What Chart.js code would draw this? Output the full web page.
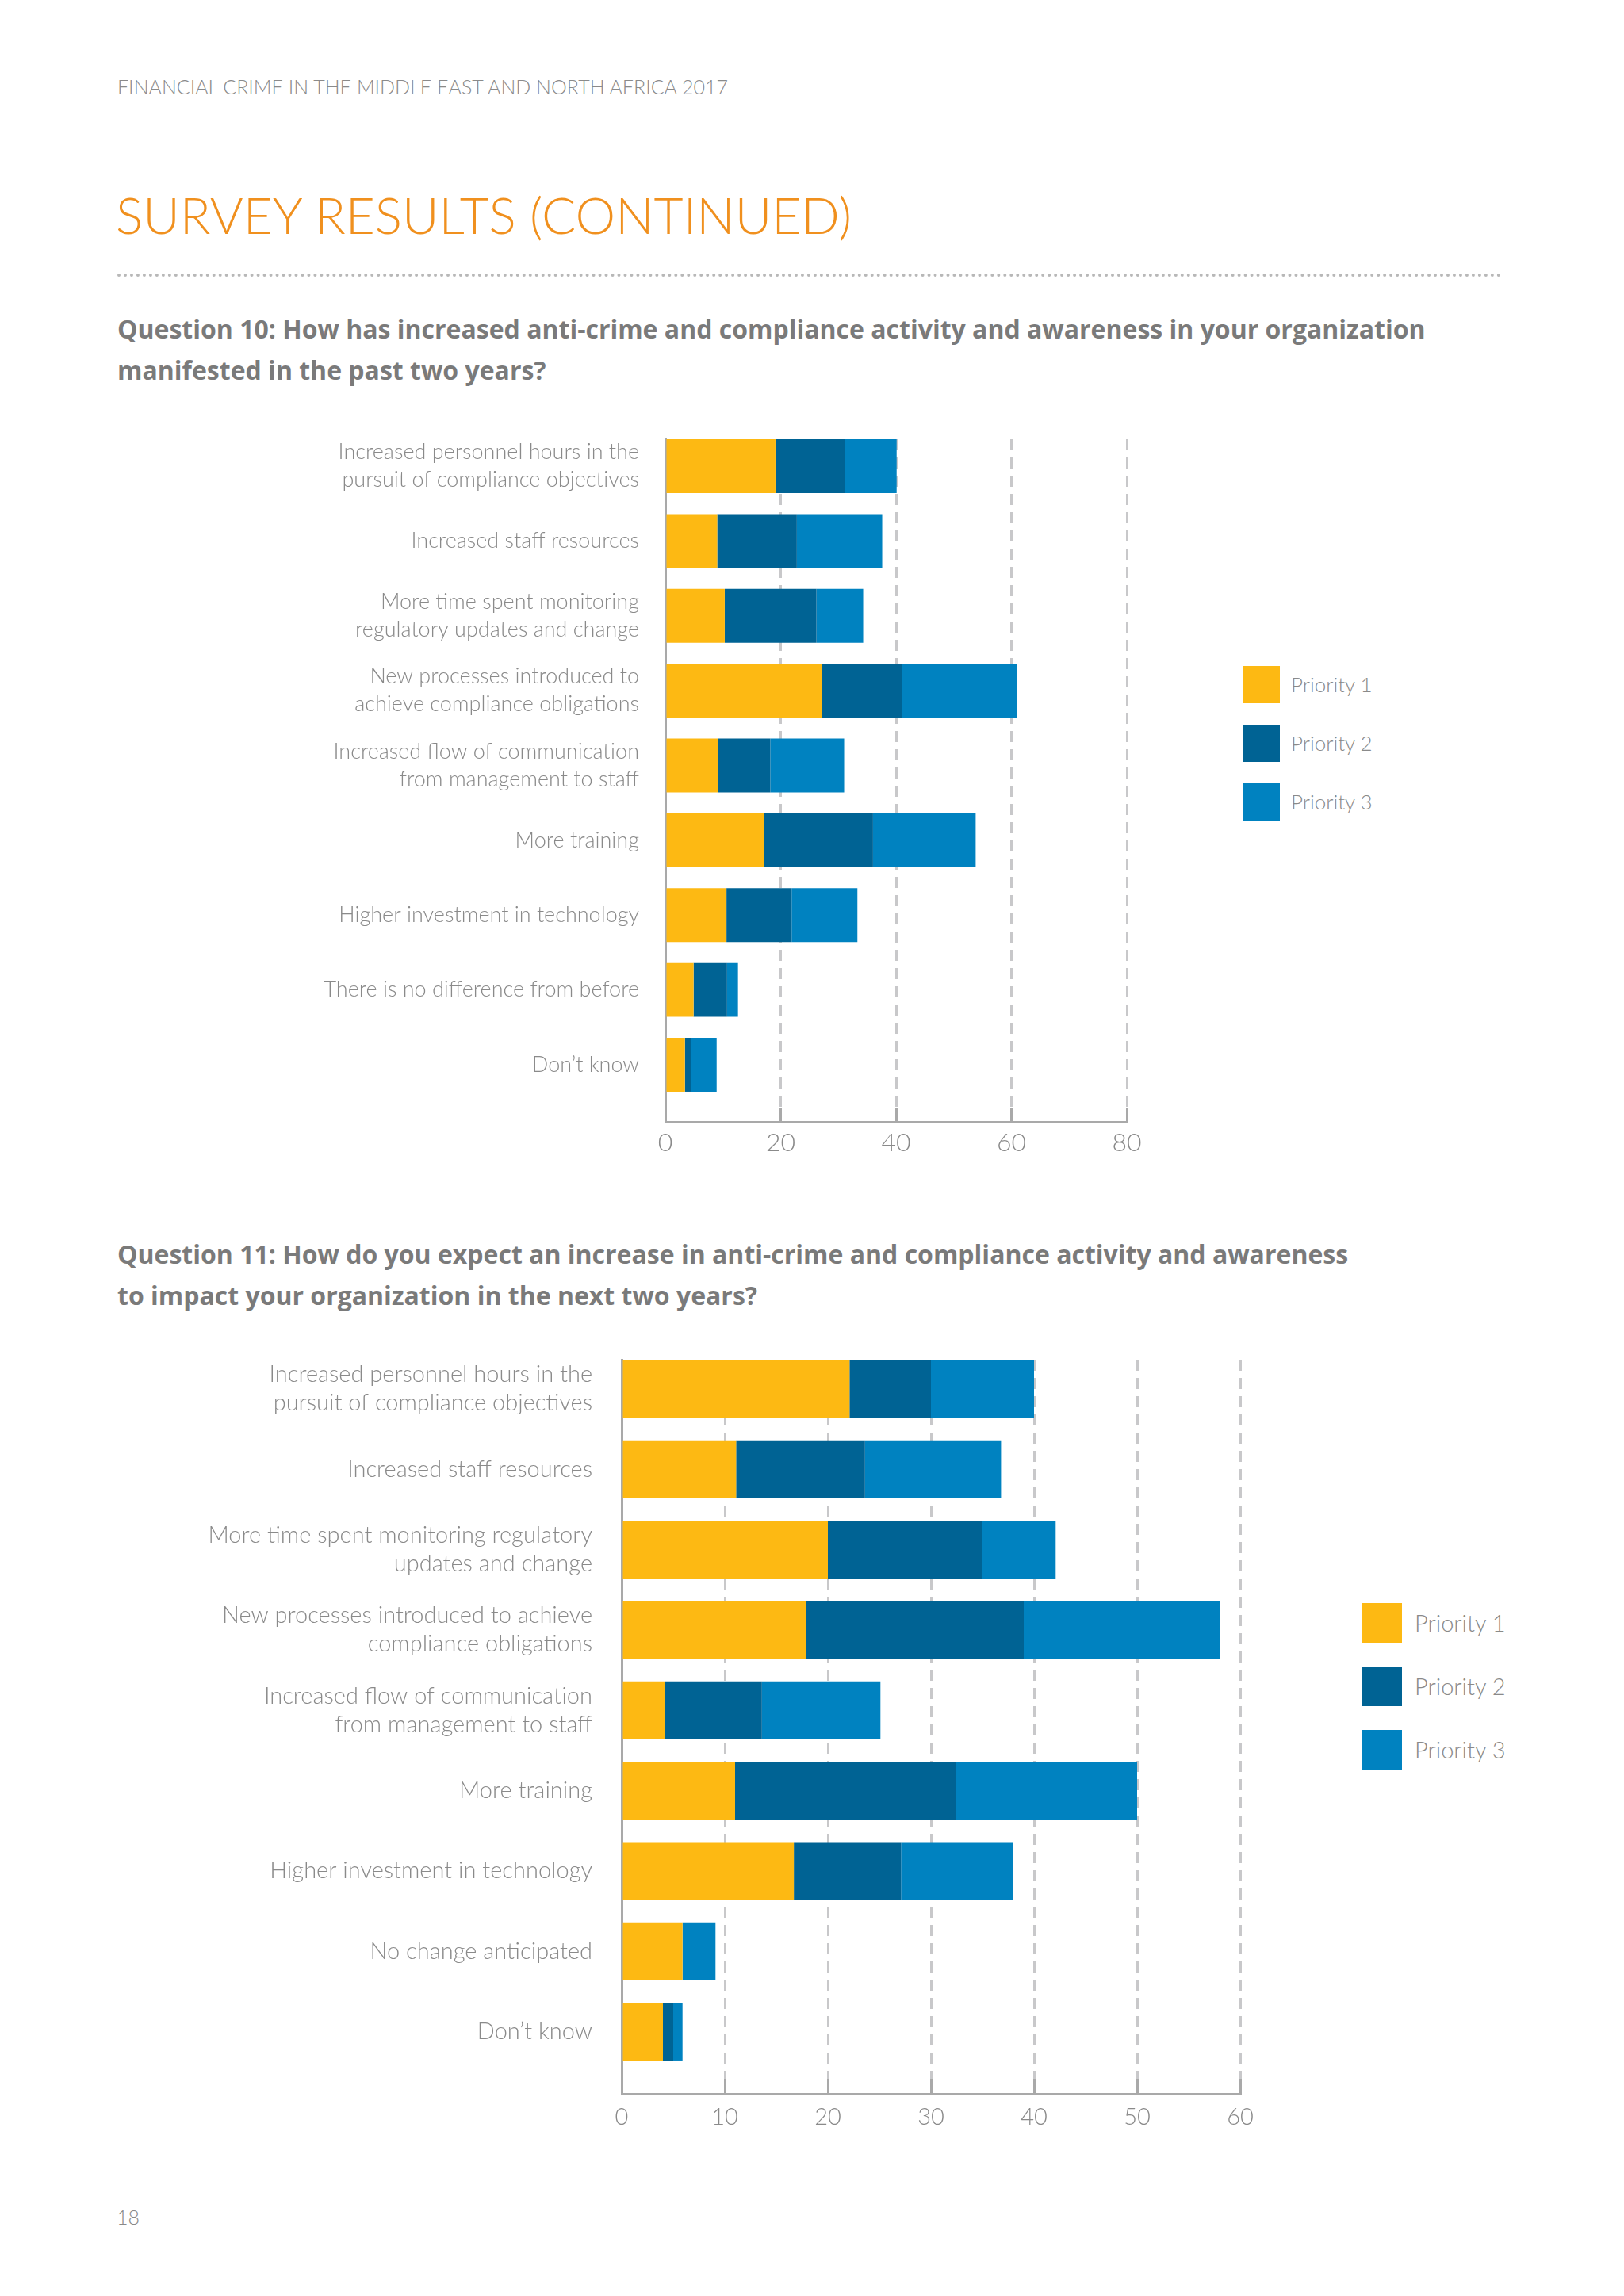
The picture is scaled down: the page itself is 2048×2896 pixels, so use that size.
<!DOCTYPE html>
<html>
<head>
<meta charset="utf-8">
<script src="https://cdn.jsdelivr.net/npm/chart.js@4.4.1/dist/chart.umd.min.js"></script>
<style>
  html, body { margin: 0; padding: 0; background: #ffffff; }
  body { width: 2048px; height: 2896px; position: relative; overflow: hidden; font-family: "Lato", "Open Sans", sans-serif; }
  .abs { position: absolute; }
  #runhead { left: 148px; top: 97px; font-size: 25px; line-height: 24px; font-weight: 300; color: #8a8a8a; white-space: nowrap; }
  #title { left: 146px; top: 240px; font-size: 64px; line-height: 62px; font-weight: 300; color: #f0901e; white-space: nowrap; }
  #rule { left: 148px; top: 345px; width: 1746px; border-top: 4px dotted #b8b8b8; }
  .question { left: 148px; font-family: "Open Sans", sans-serif; font-weight: 700; font-size: 32px; line-height: 52px; color: #7a7a7a; white-space: nowrap; }
  #q10 { top: 389px; }
  #q11 { top: 1556px; }
  #pageno { left: 147px; top: 2784px; font-size: 25px; line-height: 25px; font-weight: 300; color: #8a8a8a; }
  canvas { position: absolute; left: 0; }
  #chart10 { top: 500px; }
  #chart11 { top: 1660px; }
  .legend .item { position: absolute; white-space: nowrap; font-weight: 300; color: #8a8a8a; }
  .legend .sw { position: absolute; left: 0; top: 0; }
</style>
</head>
<body>
<div id="runhead" class="abs">FINANCIAL CRIME IN THE MIDDLE EAST AND NORTH AFRICA 2017</div>
<div id="title" class="abs">SURVEY RESULTS (CONTINUED)</div>
<div id="rule" class="abs"></div>
<div id="q10" class="abs question">Question 10: How has increased anti-crime and compliance activity and awareness in your organization<br>manifested in the past two years?</div>
<div id="q11" class="abs question">Question 11: How do you expect an increase in anti-crime and compliance activity and awareness<br>to impact your organization in the next two years?</div>
<canvas id="chart10" width="1500" height="1000"></canvas>
<canvas id="chart11" width="1650" height="1100"></canvas>
<div id="legend10" class="abs legend" style="left:1567px; top:840px;"></div>
<div id="legend11" class="abs legend" style="left:1718px; top:2022px;"></div>
<div id="pageno" class="abs">18</div>

<script>
// series names and colours shared by both charts
const seriesNames = ["Priority 1", "Priority 2", "Priority 3"];
const seriesColors = ["#fdb913", "#006394", "#0082c0"];

// Question 10
const categories10 = [
    ["Increased personnel hours in the", "pursuit of compliance objectives"],
    "Increased staff resources",
    ["More time spent monitoring", "regulatory updates and change"],
    ["New processes introduced to", "achieve compliance obligations"],
    ["Increased flow of communication", "from management to staff"],
    "More training",
    "Higher investment in technology",
    "There is no difference from before",
    "Don\u2019t know"
];
const priority1_10 = [19.1, 9.0, 10.3, 27.2, 9.2, 17.1, 10.6, 4.9, 3.4];
const priority2_10 = [12.0, 13.8, 15.9, 13.9, 9.0, 18.9, 11.3, 5.8, 1.1];
const priority3_10 = [9.0, 14.8, 8.1, 19.9, 12.8, 17.8, 11.4, 1.9, 4.4];
const ticks10 = [0, 20, 40, 60, 80];

// Question 11
const categories11 = [
    ["Increased personnel hours in the", "pursuit of compliance objectives"],
    "Increased staff resources",
    ["More time spent monitoring regulatory", "updates and change"],
    ["New processes introduced to achieve", "compliance obligations"],
    ["Increased flow of communication", "from management to staff"],
    "More training",
    "Higher investment in technology",
    "No change anticipated",
    "Don\u2019t know"
];
const priority1_11 = [22.1, 11.1, 20.0, 17.9, 4.2, 11.0, 16.7, 5.9, 4.0];
const priority2_11 = [7.9, 12.5, 15.0, 21.1, 9.4, 21.4, 10.4, 0, 1.0];
const priority3_11 = [10.0, 13.2, 7.1, 19.0, 11.5, 17.6, 10.9, 3.2, 0.9];
const ticks11 = [0, 10, 20, 30, 40, 50, 60];

const labelGrey = "#8a8a8a";
const axisGrey = "#a9a9a9";
const gridGrey = "#c8c8ca";

function makeDatasets(seriesList) {
    return seriesList.map(function (values, s) {
        return {
            label: seriesNames[s],
            data: values.map(function (v, i) { return { x: v, y: i }; }),
            backgroundColor: seriesColors[s],
            borderWidth: 0,
            barPercentage: 0.72,
            categoryPercentage: 1
        };
    });
}

function CreateStackedHBar(canvasID, cats, seriesList, tickVals, geo) {
    const ctx = document.getElementById(canvasID);
    return new Chart(ctx, {
        type: 'bar',
        data: { datasets: makeDatasets(seriesList) },
        options: {
            indexAxis: 'y',
            responsive: false,
            animation: false,
            devicePixelRatio: 1,
            layout: { padding: { top: geo.padTop, right: geo.padRight, left: 0, bottom: 0 } },
            plugins: {
                legend: { display: false },
                tooltip: { enabled: false }
            },
            scales: {
                x: {
                    type: 'linear',
                    stacked: true,
                    min: tickVals[0],
                    max: tickVals[tickVals.length - 1],
                    afterBuildTicks: function (axis) {
                        axis.ticks = tickVals.map(function (v) { return { value: v }; });
                    },
                    afterFit: function (axis) { axis.height = geo.xHeight; },
                    ticks: {
                        color: labelGrey,
                        padding: geo.xTickPad,
                        font: { family: "Lato", weight: "300", size: geo.xFont }
                    },
                    grid: {
                        color: gridGrey,
                        lineWidth: 3,
                        drawTicks: true,
                        tickLength: -geo.tickLen,
                        tickColor: axisGrey,
                        tickWidth: 3,
                        tickBorderDash: []
                    },
                    border: { display: true, color: axisGrey, width: 3, dash: [14, 9] }
                },
                y: {
                    type: 'linear',
                    stacked: true,
                    reverse: true,
                    offset: false,
                    min: geo.yMin,
                    max: geo.yMax,
                    afterBuildTicks: function (axis) {
                        axis.ticks = cats.map(function (c, i) { return { value: i }; });
                    },
                    afterFit: function (axis) { axis.width = geo.yWidth; },
                    ticks: {
                        autoSkip: false,
                        color: labelGrey,
                        padding: geo.yTickPad,
                        font: { family: "Lato", weight: "300", size: geo.yFont, lineHeight: geo.yLine },
                        callback: function (value) { return cats[value]; }
                    },
                    grid: { display: false, drawTicks: false, offset: false },
                    border: { display: true, color: axisGrey, width: 3 }
                }
            }
        }
    });
}

function BuildLegend(divID, boxSize, pitch, fontSize, textGap) {
    const holder = document.getElementById(divID);
    seriesNames.forEach(function (name, s) {
        const item = document.createElement('div');
        item.className = 'item';
        item.style.top = (s * pitch) + 'px';
        item.style.left = '0px';
        item.style.height = boxSize + 'px';
        item.style.lineHeight = boxSize + 'px';
        item.style.fontSize = fontSize + 'px';
        item.style.paddingLeft = (boxSize + textGap) + 'px';
        const sw = document.createElement('div');
        sw.className = 'sw';
        sw.style.width = boxSize + 'px';
        sw.style.height = boxSize + 'px';
        sw.style.background = seriesColors[s];
        item.appendChild(sw);
        item.appendChild(document.createTextNode(name));
        holder.appendChild(item);
    });
}

CreateStackedHBar('chart10', categories10, [priority1_10, priority2_10, priority3_10], ticks10, {
    padTop: 54, padRight: 79, xHeight: 85, yWidth: 839,
    yMin: -0.36, yMax: 8.763,
    xTickPad: 24, xFont: 32, tickLen: 17,
    yTickPad: 33, yFont: 27, yLine: 1.3
});

CreateStackedHBar('chart11', categories11, [priority1_11, priority2_11, priority3_11], ticks11, {
    padTop: 55, padRight: 86, xHeight: 119, yWidth: 784,
    yMin: -0.365, yMax: 8.775,
    xTickPad: 31, xFont: 29, tickLen: 19,
    yTickPad: 37, yFont: 29, yLine: 1.24
});

BuildLegend('legend10', 47, 74, 26, 14);
BuildLegend('legend11', 50, 80, 29, 16);
</script>
</body>
</html>
